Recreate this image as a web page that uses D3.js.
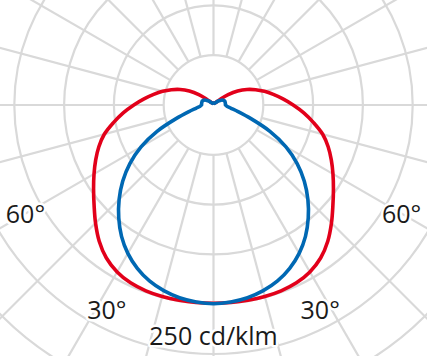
<!DOCTYPE html>
<html>
<head>
<meta charset="utf-8">
<script src="https://cdn.jsdelivr.net/npm/d3@7"></script>
<style>
body { margin: 0; background: #ffffff; }
svg { display: block; }
text { font-family: "Open Sans", sans-serif; fill: #1a1a1a; }
</style>
</head>
<body>
<svg id="svg"></svg>
<script>
// gamma angle (0 = straight down) and luminous intensity in cd/klm
var gammas   = [0, 5, 10, 15, 20, 25, 30, 35, 40, 45, 50, 55, 60, 65, 70, 75, 80, 85, 90,
                95, 100, 105, 110, 115, 120, 125, 130, 135, 140, 145, 150, 155, 160, 165, 170, 175, 180];
var c0_c180  = [199, 199, 199, 199, 198.5, 197, 193.5, 187.5, 178.5, 167.5, 156.5, 147, 138.5, 130.5, 122.5, 113.5, 102, 91, 80,
                70, 61, 53, 45, 37, 28, 18, 9, 5, 3, 3, 2, 2, 2, 2, 2, 2, 2];
var c90_c270 = [199.5, 198.5, 196.5, 193, 188, 181, 172, 161, 148, 134, 119, 102.5, 84, 62.5, 40, 25.5, 17.5, 13.5, 12,
                12, 12, 12, 12, 11, 10, 8, 6, 4, 3, 2, 2, 2, 2, 2, 2, 2, 2];

var rings        = [50, 100, 150, 200, 250, 300, 350];
var spoke_angles = [0, 15, 30, 45, 60, 75, 90, 105, 120, 135, 150, 165,
                    180, 195, 210, 225, 240, 255, 270, 285, 300, 315, 330, 345];
var angle_labels = [-60, -30, 30, 60];
var unit_ring    = 250;
var unit_text    = "cd/klm";

var width  = 427,
    height = 356;
var cx = 213.5,
    cy = 105;

var r = d3.scaleLinear()
	.domain([0, 250])
	.range([0, 249]);

var rad = function(deg) { return deg * Math.PI / 180; };

var svg = d3.select("#svg")
	.attr("width", width)
	.attr("height", height);

svg.append("rect")
	.attr("width", width)
	.attr("height", height)
	.attr("fill", "#ffffff");

var g = svg.append("g")
	.attr("transform", "translate(" + cx + "," + cy + ")");

// grid: rings and spokes (spokes start at the first ring)
var grid = g.append("g")
	.attr("fill", "none")
	.attr("stroke", "#d9d9d9")
	.attr("stroke-width", 2.2);

grid.selectAll(".ring")
	.data(rings)
	.enter()
	.append("circle")
	.attr("class", "ring")
	.attr("r", function(d) { return r(d); });

grid.selectAll(".spoke")
	.data(spoke_angles)
	.enter()
	.append("line")
	.attr("class", "spoke")
	.attr("x1", function(a) { return r(rings[0]) * Math.sin(rad(a)); })
	.attr("y1", function(a) { return r(rings[0]) * Math.cos(rad(a)); })
	.attr("x2", function(a) { return r(450) * Math.sin(rad(a)); })
	.attr("y2", function(a) { return r(450) * Math.cos(rad(a)); });

// curves: mirror each half plane (C0 right / C180 left etc.)
function closed_points(values) {
	var pts = [];
	for (var i = 0; i < gammas.length; i++) {
		pts.push([Math.PI - rad(gammas[i]), r(values[i])]);
	}
	for (var j = gammas.length - 2; j > 0; j--) {
		pts.push([Math.PI + rad(gammas[j]), r(values[j])]);
	}
	return pts;
}

var radial = d3.lineRadial()
	.angle(function(p) { return p[0]; })
	.radius(function(p) { return p[1]; })
	.curve(d3.curveCatmullRomClosed);

g.append("path")
	.attr("d", radial(closed_points(c0_c180)))
	.attr("fill", "none")
	.attr("stroke", "#e2001a")
	.attr("stroke-width", 3.6)
	.attr("stroke-linejoin", "round");

g.append("path")
	.attr("d", radial(closed_points(c90_c270)))
	.attr("fill", "none")
	.attr("stroke", "#0068b3")
	.attr("stroke-width", 3.6)
	.attr("stroke-linejoin", "round");

// labels with white knock-out
var labels = g.append("g")
	.attr("font-size", 25)
	.attr("text-anchor", "middle")
	.attr("stroke", "#ffffff")
	.attr("stroke-width", 5)
	.attr("stroke-linejoin", "round")
	.attr("paint-order", "stroke");

labels.selectAll(".alabel")
	.data(angle_labels)
	.enter()
	.append("text")
	.attr("class", "alabel")
	.attr("x", function(a) {
		var lr = Math.abs(a) == 60 ? r(218) : r(232);
		var la = Math.abs(a) == 60 ? 60 : 27.5;
		return (a < 0 ? -1 : 1) * lr * Math.sin(rad(la));
	})
	.attr("y", function(a) {
		var lr = Math.abs(a) == 60 ? r(218) : r(232);
		var la = Math.abs(a) == 60 ? 60 : 27.5;
		return lr * Math.cos(rad(la));
	})
	.attr("dy", "0.36em")
	.text(function(a) { return Math.abs(a) + "°"; });

labels.append("text")
	.attr("x", 0)
	.attr("y", r(unit_ring) - 9)
	.text(unit_ring + " " + unit_text);
</script>
</body>
</html>
